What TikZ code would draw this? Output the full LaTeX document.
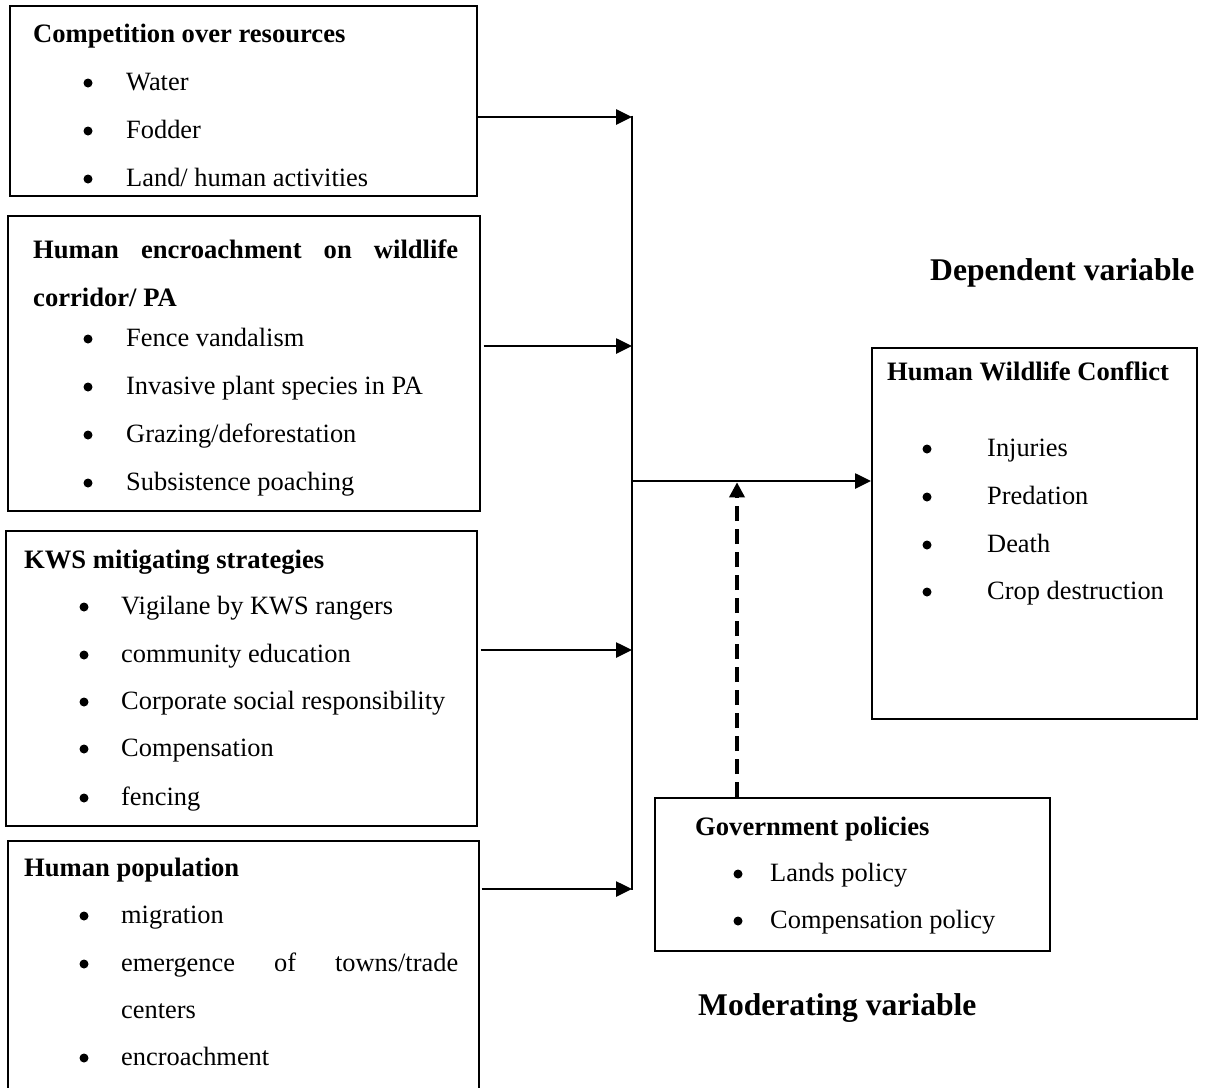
\documentclass[tikz,border=0pt]{standalone}
\usepackage{fontspec}
\setmainfont{Liberation Serif}
\usetikzlibrary{arrows.meta}
\begin{document}
\begin{tikzpicture}[x=1pt,y=-1pt,
  box/.style={draw, line width=1.6pt, inner sep=0pt, anchor=north west},
  txt/.style={anchor=base west, inner sep=0pt, font=\fontsize{26.4}{30}\selectfont},
  ttl/.style={anchor=base west, inner sep=0pt, font=\fontsize{26.6}{30}\selectfont\bfseries},
  big/.style={anchor=base west, inner sep=0pt, font=\fontsize{31.6}{36}\selectfont\bfseries},
  bul/.style={circle, fill, inner sep=0pt, minimum size=9pt},
  conn/.style={line width=2.6pt, -{Triangle[length=16pt,width=15pt]}},
  bus/.style={line width=2.6pt},
  dsh/.style={line width=3.5pt, dash pattern=on 15pt off 8pt, -{Triangle[length=15pt,width=15pt]}},
]
\useasboundingbox (0,0) rectangle (1206,1087);
\fill[white] (0,0) rectangle (1206,1087);

% boxes
\node[box, minimum width=467pt, minimum height=190pt] (b1) at (9,5) {};
\node[box, minimum width=472pt, minimum height=295pt] (b2) at (7,215) {};
\node[box, minimum width=471pt, minimum height=295pt] (b3) at (5,530) {};
\node[box, minimum width=471pt, minimum height=270pt] (b4) at (7,840) {};
\node[box, minimum width=325pt, minimum height=371pt] (hwc) at (871,347) {};
\node[box, minimum width=395pt, minimum height=153pt] (gov) at (654,797) {};

% box 1
\node[ttl] (t1) at (33,42) {Competition over resources};
\node[bul] (b1a) at (88,83) {};  \node[txt] (i1a) at (126,90) {Water};
\node[bul] (b1b) at (88,131) {}; \node[txt] (i1b) at (126,138) {Fodder};
\node[bul] (b1c) at (88,179) {}; \node[txt] (i1c) at (126,186) {Land/ human activities};

% box 2
\node[ttl] (t2a) at (33,258) {\makebox[425pt][s]{Human\hfill encroachment\hfill on\hfill wildlife}};
\node[ttl] (t2b) at (33,306) {corridor/ PA};
\node[bul] (b2a) at (88,339) {}; \node[txt] (i2a) at (126,346) {Fence vandalism};
\node[bul] (b2b) at (88,387) {}; \node[txt] (i2b) at (126,394) {Invasive plant species in PA};
\node[bul] (b2c) at (88,435) {}; \node[txt] (i2c) at (126,442) {Grazing/deforestation};
\node[bul] (b2d) at (88,483) {}; \node[txt] (i2d) at (126,490) {Subsistence poaching};

% box 3
\node[ttl] (t3) at (24,568) {KWS mitigating strategies};
\node[bul] (b3a) at (84,607) {}; \node[txt] (i3a) at (121,614) {Vigilane by KWS rangers};
\node[bul] (b3b) at (84,655) {}; \node[txt] (i3b) at (121,662) {community education};
\node[bul] (b3c) at (84,702) {}; \node[txt] (i3c) at (121,709) {Corporate social responsibility};
\node[bul] (b3d) at (84,749) {}; \node[txt] (i3d) at (121,756) {Compensation};
\node[bul] (b3e) at (84,798) {}; \node[txt] (i3e) at (121,805) {fencing};

% box 4
\node[ttl] (t4) at (24,876) {Human population};
\node[bul] (b4a) at (84,916) {}; \node[txt] (i4a) at (121,923) {migration};
\node[bul] (b4b) at (84,964) {}; \node[txt] (i4b) at (121,971) {\makebox[337pt][s]{emergence\hfill of\hfill towns/trade}};
\node[txt] (i4c) at (121,1018) {centers};
\node[bul] (b4d) at (84,1058) {}; \node[txt] (i4d) at (121,1065) {encroachment};

% HWC box
\node[ttl] (t5) at (887,380) {Human Wildlife Conflict};
\node[bul] (b5a) at (927,449) {}; \node[txt] (i5a) at (987,456) {Injuries};
\node[bul] (b5b) at (927,497) {}; \node[txt] (i5b) at (987,504) {Predation};
\node[bul] (b5c) at (927,545) {}; \node[txt] (i5c) at (987,552) {Death};
\node[bul] (b5d) at (927,592) {}; \node[txt] (i5d) at (987,599) {Crop destruction};

% Government box
\node[ttl] (t6) at (695,835) {Government policies};
\node[bul] (b6a) at (738,874) {}; \node[txt] (i6a) at (770,881) {Lands policy};
\node[bul] (b6b) at (738,921) {}; \node[txt] (i6b) at (770,928) {Compensation policy};

% labels
\node[big] (dep) at (930,280) {Dependent variable};
\node[big] (mod) at (698,1015) {Moderating variable};

% connectors
\coordinate (j1) at (632,117);
\coordinate (j2) at (632,346);
\coordinate (j3) at (632,650);
\coordinate (j4) at (632,889);
\coordinate (jm) at (632,481);
\coordinate (dt) at (737,482.3);
\draw[bus] ([yshift=1.3pt]j1) -- ([yshift=-1.3pt]j4);
\draw[conn] (b1.east |- j1) -- (j1);
\draw[conn] ([xshift=3pt]b2.east |- j2) -- (j2);
\draw[conn] ([xshift=3pt]b3.east |- j3) -- (j3);
\draw[conn] ([xshift=2pt]b4.east |- j4) -- (j4);
\draw[conn] (jm) -- (hwc.west |- jm);
\draw[dsh] (gov.north -| dt) -- (dt);
\end{tikzpicture}
\end{document}
